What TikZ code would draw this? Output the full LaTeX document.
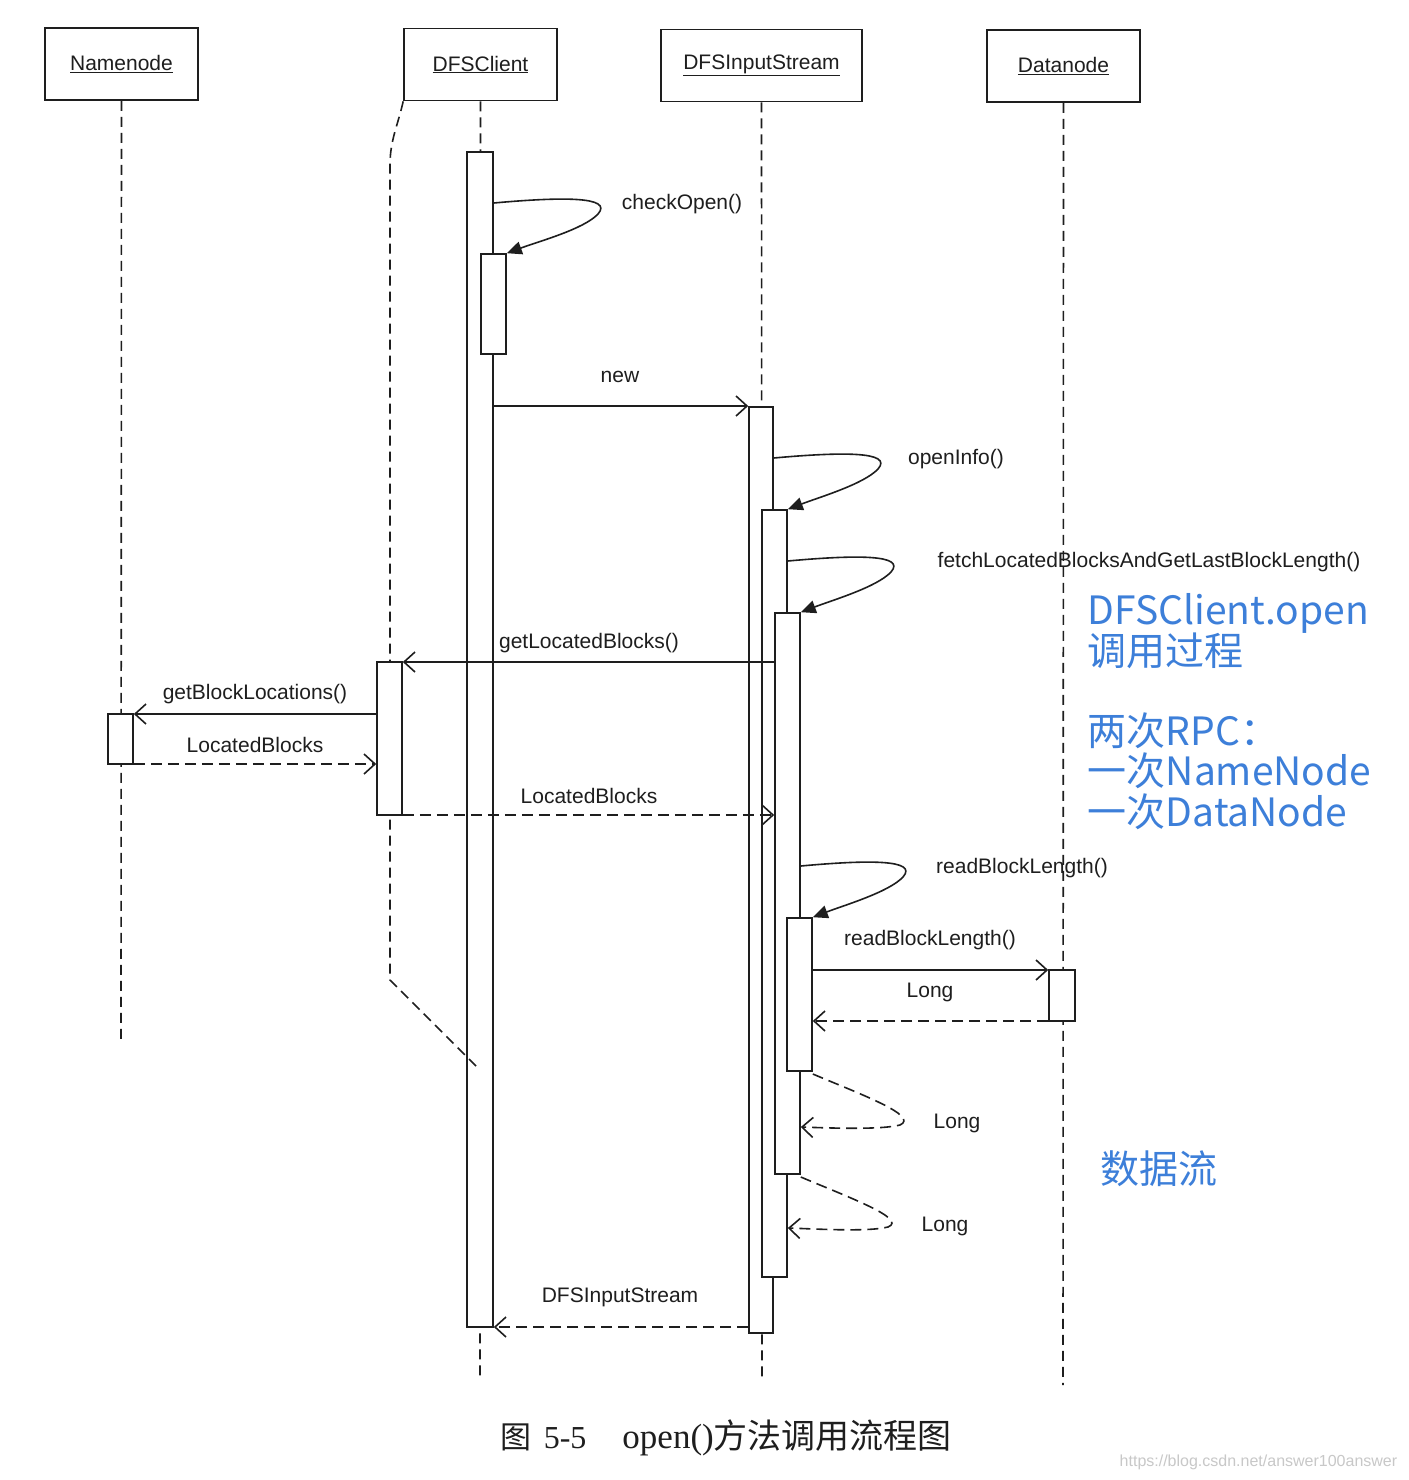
\documentclass[tikz,border=0pt]{standalone}
\usepackage{fontspec}
\setmainfont{Liberation Sans}
\newfontfamily\cjk{Noto Sans CJK SC}
\newfontfamily\serifrm{Liberation Serif}
\usetikzlibrary{arrows.meta}
\definecolor{noteblue}{RGB}{61,127,217}
\definecolor{wmgray}{RGB}{200,200,200}
\definecolor{ink}{RGB}{30,30,30}
\begin{document}
\begin{tikzpicture}[x=1pt,y=-1pt,line width=1.6pt,draw=ink,
  head/.style={draw,inner sep=0pt,minimum height=72pt,text=ink,font=\fontsize{21}{24}\selectfont},
  act/.style={draw,fill=white,inner sep=0pt,minimum width=25pt},
  life/.style={dash pattern=on 10pt off 6pt},
  msg/.style={-{Straight Barb[length=11pt,width=20pt]}},
  ret/.style={dash pattern=on 11pt off 6pt,-{Straight Barb[length=11pt,width=20pt]}},
  selfcall/.style={-{Triangle[length=15pt,width=13pt]}},
  lbl/.style={inner sep=0pt,text=ink,font=\fontsize{21}{24}\selectfont},
  note/.style={inner sep=0pt,anchor=base west,text=noteblue,font=\cjk\fontsize{39}{44}\selectfont}]
\useasboundingbox[fill=white] (0,0) rectangle (1408,1480);

% header boxes
\node[head,minimum width=153pt] (nn) at (121.5,64) {\underline{Namenode}};
\node[head,minimum width=153pt] (dc) at (480.5,64.5) {\underline{DFSClient}};
\node[head,minimum width=201pt] (is) at (761.5,65.5) {\underline{DFSInputStream}};
\node[head,minimum width=153pt] (dn) at (1063.5,66) {\underline{Datanode}};

% lifeline end points
\coordinate (nnend) at (121,1040);
\coordinate (dcend) at (480,1380);
\coordinate (isend) at (762,1380);
\coordinate (dnend) at (1063,1385);
\coordinate (pxbend) at (390,980);
\coordinate (pxend) at (480,1070);

% lifelines
\draw[life] (nn.south) -- (nnend);
\draw[life] (dc.south) -- (dcend);
\draw[life] (is.south) -- (isend);
\draw[life] (dn.south) -- (dnend);

% DFSClient activations
\node[act,minimum width=26pt,minimum height=1175pt] (c1) at (480,739.5) {};
\draw[life] (dc.south west) .. controls (398,125) and (390,140) .. (390,165) -- (pxbend) -- (pxend);
\node[act,minimum height=100pt] (c2) at (493.5,304) {};
\node[act,minimum height=153pt] (p1) at (389.5,738.5) {};

% Namenode / Datanode activations
\node[act,minimum height=50pt] (n1) at (120.5,739) {};
\node[act,minimum width=26pt,minimum height=51pt] (d1) at (1062,995.5) {};

% DFSInputStream activations
\node[act,minimum width=24pt,minimum height=926pt] (s0) at (761,870) {};
\node[act,minimum height=767pt] (s1) at (774.5,893.5) {};
\node[act,minimum height=561pt] (s2) at (787.5,893.5) {};
\node[act,minimum height=153pt] (s3) at (799.5,994.5) {};

% self calls
\draw[selfcall] (c1.east |- 0,203) .. controls (560,197) and (614,196) .. (598,214) .. controls (584,229) and (540,241) .. (c2.north east);
\draw[selfcall] (s0.east |- 0,458) .. controls (840,452) and (894,451) .. (878,469) .. controls (864,484) and (820,497) .. (s1.north east);
\draw[selfcall] (s1.east |- 0,561) .. controls (854,555) and (907,554) .. (891,572) .. controls (877,587) and (833,600) .. (s2.north east);
\draw[selfcall] (s2.east |- 0,866) .. controls (866,860) and (919,859) .. (903,877) .. controls (889,892) and (845,905) .. (s3.north east);

% messages
\draw[msg] (c1.east |- 0,406) -- (s0.west |- 0,406);
\draw[msg] (s2.west |- 0,662) -- (p1.east |- 0,662);
\draw[msg] (p1.west |- 0,714) -- (n1.east |- 0,714);
\draw[ret] (n1.east |- 0,764) -- (p1.west |- 0,764);
\draw[ret] (p1.east |- 0,815) -- (s2.west |- 0,815);
\draw[msg] (s3.east |- 0,970) -- (d1.west |- 0,970);
\draw[ret] (d1.west |- 0,1021) -- (s3.east |- 0,1021);
\draw[ret] (s3.east |- 0,1074) .. controls (860,1094) and (920,1116) .. (900,1125) .. controls (880,1130) and (830,1128) .. (s2.east |- 0,1127);
\draw[ret] (s2.east |- 0,1177) .. controls (848,1197) and (908,1219) .. (888,1227) .. controls (868,1232) and (818,1229) .. (s1.east |- 0,1228);
\draw[ret] (s0.west |- 0,1327) -- (c1.east |- 0,1327);

% labels
\node[lbl] (l1) at (682,204) {checkOpen()};
\node[lbl] (l2) at (620,377) {new};
\node[lbl] (l3) at (956,459) {openInfo()};
\node[lbl] (l4) at (1149,562) {fetchLocatedBlocksAndGetLastBlockLength()};
\node[lbl] (l5) at (589,643) {getLocatedBlocks()};
\node[lbl] (l6) at (255,694) {getBlockLocations()};
\node[lbl] (l7) at (255,745) {LocatedBlocks};
\node[lbl] (l8) at (589,796) {LocatedBlocks};
\node[lbl] (l9) at (1022,868) {readBlockLength()};
\node[lbl] (l10) at (930,940) {readBlockLength()};
\node[lbl] (l11) at (930,992) {Long};
\node[lbl] (l12) at (957,1123) {Long};
\node[lbl] (l13) at (945,1226) {Long};
\node[lbl] (l14) at (620,1297) {DFSInputStream};

% blue notes
\node[note] (b1) at (1087,624.5) {DFSClient.open};
\node[note] (b2) at (1087,665.5) {调用过程};
\node[note] (b3) at (1087,745) {两次RPC：};
\node[note] (b4) at (1087,785.5) {一次NameNode};
\node[note] (b5) at (1087,826) {一次DataNode};
\node[note] (b6) at (1100,1183) {数据流};

% caption
\node[inner sep=0pt,anchor=west,text=ink] (cap) at (500,1438)
  {{\cjk\fontsize{31}{36}\selectfont 图}\hspace{12pt}{\serifrm\fontsize{32}{36}\selectfont 5-5}\hspace{36pt}{\serifrm\fontsize{35}{36}\selectfont open()}{\cjk\fontsize{34}{36}\selectfont 方法调用流程图}};
\node[inner sep=0pt,anchor=east,text=wmgray,font=\fontsize{16}{18}\selectfont] (wm) at (1398,1462) {https://blog.csdn.net/answer100answer};
\end{tikzpicture}
\end{document}
